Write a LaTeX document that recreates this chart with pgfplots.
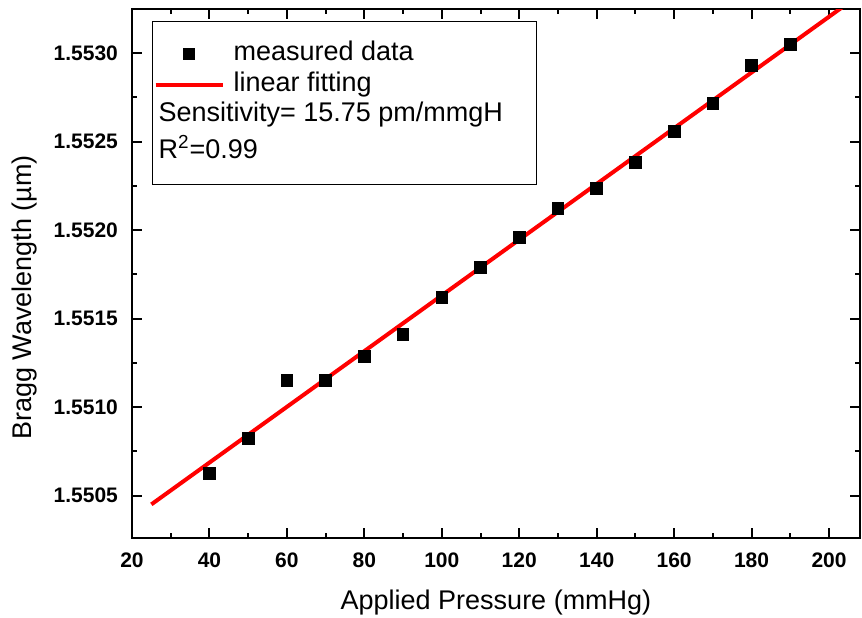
\documentclass[border=0pt]{standalone}
\usepackage{pgfplots}
\pgfplotsset{compat=1.18}
\usepackage{fontspec}
\setmainfont{Liberation Sans}
\pgfplotsset{
  sqleg/.style={legend image code/.code={\path[draw=none,fill=none] (0pt,-1pt) rectangle (33.5pt,1pt);
    \draw[##1, only marks] plot coordinates {(16.75pt,0pt)};}},
  lineleg/.style={legend image code/.code={\draw[##1] (0pt,0pt) -- (33.5pt,0pt);}},
}
\begin{document}
\begin{tikzpicture}
\begin{axis}[
  scale only axis, width=364pt, height=264.5pt,
  xmin=20, xmax=208, ymin=1.55026, ymax=1.55325,
  axis line style={line width=1pt},
  every tick/.style={black, line width=1pt},
  major tick length=5pt, minor tick length=2.5pt,
  tick align=inside,
  xtick={20,40,...,200}, minor x tick num=1,
  ytick={1.5505,1.551,1.5515,1.552,1.5525,1.553}, minor y tick num=1,
  scaled y ticks=false,
  yticklabel style={/pgf/number format/.cd, fixed, fixed zerofill, precision=4},
  /pgf/number format/assume math mode=true,
  tick label style={font=\fontsize{10.5}{12}\selectfont\bfseries},
  xticklabel shift=4pt, yticklabel shift=3.5pt,
  label style={font=\fontsize{13.5}{16}\selectfont},
  xlabel={Applied Pressure (mmHg)},
  ylabel={Bragg Wavelength (µm)},
  xlabel style={at={(axis description cs:0.5,-0.136)}, anchor=base},
  ylabel style={at={(axis description cs:-0.1374,0.4546)}, anchor=base},
  legend style={at={(axis description cs:0.0275,0.977)}, anchor=north west,
    draw=black, line width=0.5pt, fill=white,
    font=\fontsize{13.5}{16}\selectfont,
    inner xsep=0.5pt, inner ysep=8.5pt, column sep=4.5pt, row sep=0pt,
    cells={anchor=west},
    nodes={inner xsep=0pt, inner ysep=1.25pt, text depth=3pt}},
]
\addplot[only marks, mark=square*, mark size=2.9pt, black, sqleg]
  coordinates {
  (40,1.550624) (50,1.550822) (60,1.551150) (70,1.551150) (80,1.551286)
  (90,1.551411) (100,1.551620) (110,1.551790) (120,1.551959) (130,1.552123)
  (140,1.552236) (150,1.552383) (160,1.552559) (170,1.552717) (180,1.552932)
  (190,1.553051)};
\addlegendentry{measured data}
\addplot[red, line width=2pt, no marks, lineleg]
  coordinates {(25,1.55045) (205,1.553285)};
\addlegendentry{linear fitting}
\addlegendimage{empty legend}
\addlegendentry{\hspace*{-37.5pt}Sensitivity= 15.75 pm/mmgH\hspace*{16.5pt}}
\addlegendimage{empty legend}
\addlegendentry{\hspace*{-37.5pt}\rule{0pt}{13pt}R\textsuperscript{2}=0.99}
\end{axis}
\pgfresetboundingbox
\path ([shift={(-66pt,-39.5pt)}]current axis.south west) rectangle ([shift={(1pt,4.5pt)}]current axis.north east);
\end{tikzpicture}
\end{document}
